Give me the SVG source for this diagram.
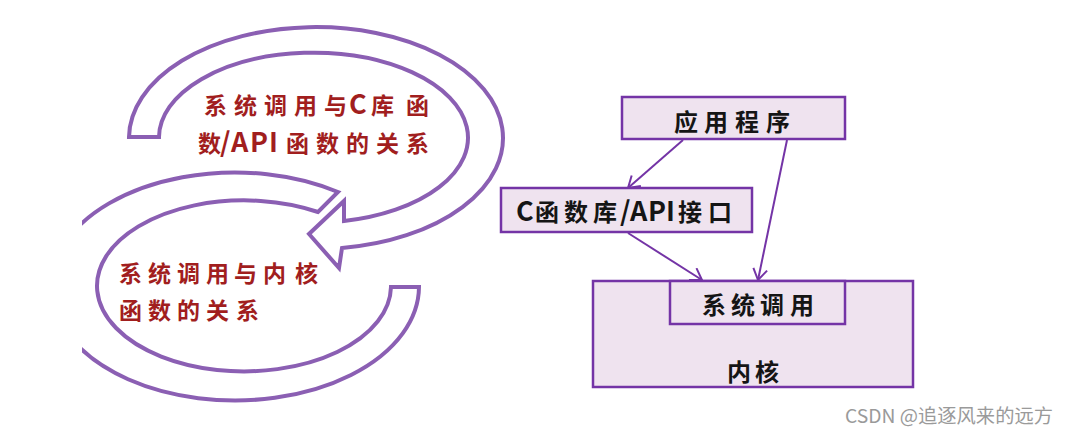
<svg xmlns="http://www.w3.org/2000/svg" width="1071" height="441" viewBox="0 0 1071 441">
<style>
.band{fill:none;stroke:#8B5FB3;stroke-width:4;stroke-linejoin:miter}
.box{fill:#EFE3EF;stroke:#7434A6;stroke-width:2.5}
.conn{fill:none;stroke:#7434A6;stroke-width:2}
.red{font-family:"Noto Sans CJK SC","Noto Sans",sans-serif;font-weight:bold;font-size:23px;fill:#A11E1E}
.blk{font-family:"Noto Sans CJK SC","Noto Sans",sans-serif;font-weight:bold;font-size:24px;fill:#151515}
.lat{font-size:27px}
.wm{font-family:"Noto Sans CJK SC","Liberation Sans",sans-serif;font-size:19px;fill:#9A9A9A}
</style>
<defs>
<marker id="arr" markerUnits="userSpaceOnUse" markerWidth="16" markerHeight="16" refX="13" refY="8" orient="auto">
<path d="M2,1 L13,8 L2,15" fill="none" stroke="#7434A6" stroke-width="2"/>
</marker>
<clipPath id="clipL"><rect x="82" y="0" width="989" height="441"/></clipPath>
</defs>
<rect width="1071" height="441" fill="#ffffff"/>
<g id="cycle-upper">
<path class="band" d="M129,137 A187,111 0 1 1 342,248 L339,268 L309,234 L344,201 L344,221 A154.5,85 0 1 0 159,137 Z"/>
<text class="red" x="204 234 264 294 324 349 371 406" y="114">系统调用与<tspan class="lat">C</tspan>库函</text>
<text class="red" x="198 220 231 250 269 286 316 346 376 406" y="152">数<tspan class="lat">/API</tspan>函数的关系</text>
</g>
<g id="cycle-lower">
<path class="band" clip-path="url(#clipL)" d="M338,192 A184,114 0 1 0 419,287 L391,287 A147,85.5 0 1 1 318,212 Z"/>
<text class="red" x="119 148 177 206 234 263 295" y="282">系统调用与内核</text>
<text class="red" x="119 148 177 206 236" y="319">函数的关系</text>
</g>
<g id="connectors">
<line class="conn" x1="683" y1="140" x2="628" y2="188" marker-end="url(#arr)"/>
<line class="conn" x1="787" y1="140" x2="758" y2="280" marker-end="url(#arr)"/>
<line class="conn" x1="628" y1="233" x2="702" y2="280" marker-end="url(#arr)"/>
</g>
<g id="node-app">
<rect class="box" x="622" y="97" width="223" height="42"/>
<text class="blk" x="674 704 735 766" y="131">应用程序</text>
</g>
<g id="node-clib">
<rect class="box" x="501" y="188" width="251" height="44"/>
<text class="blk" x="516 535 564 593 620 630 648 666 678 708" y="221"><tspan class="lat">C</tspan>函数库<tspan class="lat">/API</tspan>接口</text>
</g>
<g id="node-kernel">
<rect class="box" x="593" y="281" width="320" height="106"/>
<text class="blk" x="727 755" y="381">内核</text>
</g>
<g id="node-syscall">
<rect class="box" x="670" y="281" width="175" height="43"/>
<text class="blk" x="702 731 760 790" y="314">系统调用</text>
</g>
<text class="wm" x="845" y="423" textLength="208" lengthAdjust="spacingAndGlyphs">CSDN @追逐风来的远方</text>
</svg>
